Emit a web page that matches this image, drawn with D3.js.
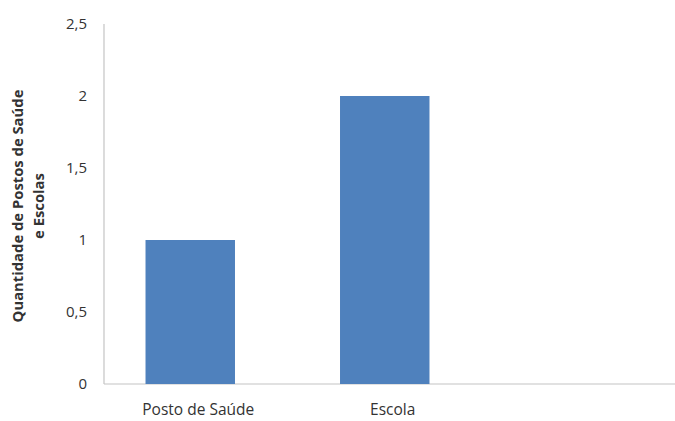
<!DOCTYPE html>
<html><head><meta charset="utf-8">
<script src="https://cdn.jsdelivr.net/npm/d3@7"></script>
<style>body{margin:0;background:#fff;}svg{display:block;}</style>
</head><body>
<svg id="c" width="675" height="421"></svg>
<script>
const categories = ["Posto de Saúde", "Escola", ""];
const values = [1, 2, null];
const yTicks = [0, 0.5, 1, 1.5, 2, 2.5];
const yTitle = ["Quantidade de Postos de Saúde", "e Escolas"];

const svg = d3.select("#c");
const font = "'Open Sans', 'Noto Sans', sans-serif";
const textColor = "#333333";

const y = d3.scaleLinear().domain([0, 2.5]).range([384, 24]);
const x = d3.scaleBand().domain(categories).range([93, 676.5]).paddingInner(0.54).paddingOuter(0.27);
const axisLeftX = 104;

// axes lines
svg.append("line").attr("x1", axisLeftX).attr("x2", axisLeftX).attr("y1", y(2.5)).attr("y2", y(0))
  .attr("stroke", "#c4c4c4").attr("stroke-width", 1.2);
svg.append("line").attr("x1", axisLeftX).attr("x2", 675).attr("y1", y(0)).attr("y2", y(0))
  .attr("stroke", "#c4c4c4").attr("stroke-width", 1.2);

// y tick labels
const fmt = v => String(v).replace(".", ",");
svg.append("g").selectAll("text").data(yTicks).join("text")
  .attr("x", 87).attr("y", d => y(d)).attr("dy", "0.35em")
  .attr("text-anchor", "end").attr("font-family", font).attr("font-size", 15)
  .attr("fill", textColor).text(fmt);

// bars
const barData = categories.map((c, i) => ({c, v: values[i]})).filter(d => d.v != null);
svg.append("g").selectAll("rect").data(barData).join("rect")
  .attr("x", d => x(d.c)).attr("width", x.bandwidth())
  .attr("y", d => y(d.v)).attr("height", d => y(0) - y(d.v))
  .attr("fill", "#4f81bd");

// category labels
svg.append("g").selectAll("text").data(categories.filter(c => c)).join("text")
  .attr("x", d => x(d) + x.bandwidth() / 2 + 8).attr("y", 415)
  .attr("text-anchor", "middle").attr("font-family", font).attr("font-size", 15.5)
  .attr("fill", textColor).text(d => d);

// y title
const tg = svg.append("g").attr("transform", "translate(0,206) rotate(-90)");
tg.selectAll("text").data(yTitle).join("text")
  .attr("x", 0).attr("y", (d, i) => 23 + i * 21)
  .attr("text-anchor", "middle").attr("font-family", font).attr("font-size", 14.8)
  .attr("font-weight", "bold").attr("fill", textColor).text(d => d);
</script>
</body></html>
